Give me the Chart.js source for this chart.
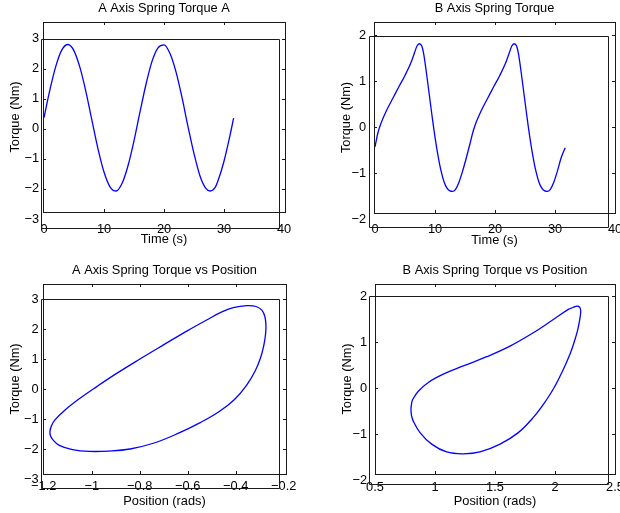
<!DOCTYPE html>
<html>
<head>
<meta charset="utf-8">
<script src="https://cdn.jsdelivr.net/npm/chart.js@4.4.1/dist/chart.umd.min.js"></script>
<style>
  html, body { margin: 0; padding: 0; background: #fff; }
  #wrap { position: relative; width: 620px; height: 513px; overflow: hidden; }
  #wrap canvas { position: absolute; left: 0; top: 0; }
</style>
</head>
<body>
<div id="wrap">
  <canvas id="pA" width="620" height="513"></canvas>
  <canvas id="pB" width="620" height="513"></canvas>
  <canvas id="pAL" width="620" height="513"></canvas>
  <canvas id="pBL" width="620" height="513"></canvas>
</div>
<script>
const FONT = '"Liberation Sans", Arial, Helvetica, sans-serif';

// A axis torque over time (s, Nm)
const timeA = [0, 1, 2, 3, 4, 5, 6, 7, 8, 9, 10, 11, 12, 13, 14, 15, 16, 17, 18, 19, 20,
  21, 22, 23, 24, 25, 26, 27, 27.7, 28.5, 29, 30, 31, 31.6];
const torqueA = [0.37, 1.31, 2.10, 2.63, 2.80, 2.59, 2.03, 1.22, 0.27, -0.67, -1.44, -1.93, -2.07,
  -1.82, -1.23, -0.40, 0.56, 1.48, 2.24, 2.69, 2.79, 2.50, 1.89, 1.04, 0.07, -0.83, -1.57, -1.99,
  -2.07, -1.96, -1.73, -1.08, -0.22, 0.35];

// B axis torque over time (s, Nm)
const timeB = [0, 0.5, 1, 2, 3, 4, 5, 6, 6.6, 7.0, 7.4, 7.8, 8.1, 8.5, 9.0, 9.5, 10.0, 10.5, 11.0,
  11.5, 12.0, 12.5, 12.9, 13.4, 14.0, 14.6, 15.2, 15.8, 16.3, 16.8, 17.8, 18.8, 19.8, 20.8, 21.8,
  22.4, 22.8, 23.2, 23.6, 23.9, 24.3, 24.8, 25.3, 25.8, 26.3, 26.8, 27.3, 27.8, 28.3, 28.7, 29.2,
  29.8, 30.4, 31.0, 31.7];
const torqueB = [-0.43, -0.12, 0.08, 0.38, 0.63, 0.88, 1.12, 1.40, 1.62, 1.76, 1.81, 1.76, 1.60, 1.25,
  0.75, 0.25, -0.22, -0.62, -0.95, -1.19, -1.33, -1.39, -1.40, -1.36, -1.20, -0.96, -0.68, -0.38, -0.12,
  0.08, 0.38, 0.63, 0.88, 1.12, 1.40, 1.62, 1.76, 1.81, 1.76, 1.60, 1.25, 0.75, 0.25, -0.22, -0.62,
  -0.95, -1.19, -1.33, -1.39, -1.40, -1.36, -1.20, -0.96, -0.68, -0.45];

// A axis torque vs position loop (rads, Nm)
const posLoopA = [-1.174, -1.168, -1.153, -1.111, -1.049, -0.979, -0.896, -0.799, -0.701, -0.604,
  -0.521, -0.460, -0.410, -0.354, -0.315, -0.290, -0.278, -0.274, -0.276, -0.283, -0.296, -0.319,
  -0.355, -0.405, -0.470, -0.550, -0.640, -0.740, -0.840, -0.930, -1.010, -1.080, -1.135, -1.163,
  -1.172];
const torqueLoopA = [-1.42, -1.23, -1.03, -0.70, -0.31, 0.08, 0.52, 1.00, 1.47, 1.93, 2.30, 2.56, 2.71,
  2.78, 2.75, 2.62, 2.40, 2.10, 1.80, 1.45, 1.05, 0.60, 0.12, -0.35, -0.76, -1.13, -1.48, -1.80, -2.00,
  -2.07, -2.08, -2.02, -1.88, -1.68, -1.55];

// B axis torque vs position loop (rads, Nm)
const posLoopB = [2.185, 2.205, 2.214, 2.210, 2.200, 2.185, 2.160, 2.130, 2.090, 2.045, 1.995, 1.931,
  1.819, 1.694, 1.542, 1.375, 1.236, 1.097, 0.972, 0.875, 0.819, 0.803, 0.800, 0.804, 0.814, 0.861,
  0.944, 1.069, 1.236, 1.431, 1.625, 1.819, 1.986, 2.111, 2.150];
const torqueLoopB = [1.78, 1.76, 1.68, 1.55, 1.40, 1.22, 1.00, 0.77, 0.52, 0.27, 0.02, -0.25, -0.64,
  -0.97, -1.22, -1.39, -1.43, -1.39, -1.22, -0.97, -0.72, -0.58, -0.46, -0.35, -0.25, -0.07, 0.12, 0.30,
  0.48, 0.68, 0.91, 1.20, 1.49, 1.71, 1.75];

// axis ranges: [min, max, step]
const timeRange = [0, 40, 10];
const torqueRangeA = [-3, 3, 1];
const torqueRangeB = [-2, 2, 1];
const posRangeA = [-1.2, -0.2, 0.2];
const posRangeB = [0.5, 2.5, 0.5];

const pts = (xs, ys) => xs.map((x, i) => ({ x, y: ys[i] }));
// loops: prepend the last point and append the first two so the closing stays smooth
const loop = (xs, ys) => {
  const p = pts(xs, ys);
  return [p[p.length - 1]].concat(p, p.slice(0, 2));
};
const fmtTick = (v) => String(+v.toFixed(2)).replace("-", "\u2212");

// draws the two offset frames, their tick marks and the titles
const framePlugin = {
  id: "frame",
  afterDraw(chart, args, o) {
    const { ctx, scales: { x, y } } = chart;
    const [ol, ot, or, ob] = o.outer;
    const [il, it, ir, ib] = o.inner;
    ctx.save();
    ctx.strokeStyle = "#1a1a1a";
    ctx.lineWidth = 1;
    ctx.strokeRect(ol + 0.5, ot + 0.5, or - ol, ob - ot);
    ctx.beginPath();
    ctx.moveTo(il + 0.5, ib + 0.5);
    ctx.lineTo(il + 0.5, it + 0.5);
    ctx.lineTo(ir + 0.5, it + 0.5);
    ctx.lineTo(ir + 0.5, ib + 0.5);
    ctx.lineTo(il + 0.5, ib + 0.5);
    ctx.stroke();

    ctx.beginPath();
    x.ticks.forEach((t) => {
      const px = Math.round(x.getPixelForValue(t.value)) + 0.5;
      if (px <= ol + 2 || px >= or - 2) return;
      ctx.moveTo(px, ot); ctx.lineTo(px, ot + 3);
      ctx.moveTo(px, ob); ctx.lineTo(px, ob - 3);
    });
    y.ticks.forEach((t) => {
      const py = Math.round(y.getPixelForValue(t.value)) + 0.5;
      if (py <= ot + 2 || py >= ob - 2) return;
      ctx.moveTo(ol, py); ctx.lineTo(ol + 3, py);
      ctx.moveTo(or, py); ctx.lineTo(or - 3, py);
    });
    ctx.stroke();

    ctx.fillStyle = "#000";
    ctx.font = `12.8px ${FONT}`;
    ctx.textAlign = "center";
    ctx.textBaseline = "middle";
    const cx = (ol + or) / 2;
    const cy = (ot + ob) / 2;
    ctx.fillText(o.title, cx, ot - 13.7);
    ctx.fillText(o.xTitle, cx, ob + 27.5);
    ctx.translate(ol - 27.5, cy);
    ctx.rotate(-Math.PI / 2);
    ctx.fillText(o.yTitle, 0, 0);
    ctx.restore();
  }
};

function makePanel(id, data, xr, yr, g) {
  const [L, T, R, B] = g.area;
  const tickFont = { family: FONT, size: 12.8 };
  return new Chart(document.getElementById(id), {
    type: "line",
    data: {
      datasets: [{
        data,
        borderColor: "#0000ff",
        borderWidth: 1.3,
        pointRadius: 0,
        tension: 0.4,
        cubicInterpolationMode: g.mode,
        fill: false,
        clip: false
      }]
    },
    options: {
      responsive: false,
      devicePixelRatio: 1,
      animation: false,
      events: [],
      layout: { padding: { left: L - 40, top: T, right: 620 - R, bottom: 513 - B - 30 } },
      plugins: {
        legend: { display: false },
        tooltip: { enabled: false },
        frame: g
      },
      scales: {
        x: {
          type: "linear",
          min: xr[0], max: xr[1],
          grid: { display: false, drawTicks: false },
          border: { display: false },
          ticks: { stepSize: xr[2], color: "#000", font: tickFont, padding: g.xPad,
            maxRotation: 0, autoSkip: false, callback: fmtTick },
          afterFit(s) { s.height = 30; s.paddingLeft = 0; s.paddingRight = 0; }
        },
        y: {
          type: "linear",
          min: yr[0], max: yr[1],
          grid: { display: false, drawTicks: false },
          border: { display: false },
          ticks: { stepSize: yr[2], color: "#000", font: tickFont, padding: g.yPad,
            autoSkip: false, callback: fmtTick },
          afterFit(s) { s.width = 40; s.paddingTop = 0; s.paddingBottom = 0; }
        }
      }
    },
    plugins: [framePlugin]
  });
}

makePanel("pA", pts(timeA, torqueA), timeRange, torqueRangeA, {
  area: [44, 38.5, 284, 219], outer: [43, 22, 285, 212], inner: [41, 39, 279, 228],
  yPad: 5, xPad: 3, mode: "monotone",
  title: "A Axis Spring Torque A", xTitle: "Time (s)", yTitle: "Torque (Nm)"
});
makePanel("pB", pts(timeB, torqueB), timeRange, torqueRangeB, {
  area: [375, 35, 615, 219], outer: [374, 22, 615, 213], inner: [369, 36, 608, 227],
  yPad: 9, xPad: 3, mode: "monotone",
  title: "B Axis Spring Torque", xTitle: "Time (s)", yTitle: "Torque (Nm)"
});
makePanel("pAL", loop(posLoopA, torqueLoopA), posRangeA, torqueRangeA, {
  area: [43.7, 299, 283.7, 479], outer: [43, 284, 286, 474], inner: [41, 299, 279, 488],
  yPad: 5, xPad: 0, mode: "default",
  title: "A Axis Spring Torque vs Position", xTitle: "Position (rads)", yTitle: "Torque (Nm)"
});
makePanel("pBL", loop(posLoopB, torqueLoopB), posRangeB, torqueRangeB, {
  area: [375, 296, 615, 480], outer: [375, 284, 615, 474], inner: [369, 296, 608, 484],
  yPad: 8, xPad: 0, mode: "default",
  title: "B Axis Spring Torque vs Position", xTitle: "Position (rads)", yTitle: "Torque (Nm)"
});
</script>
</body>
</html>
